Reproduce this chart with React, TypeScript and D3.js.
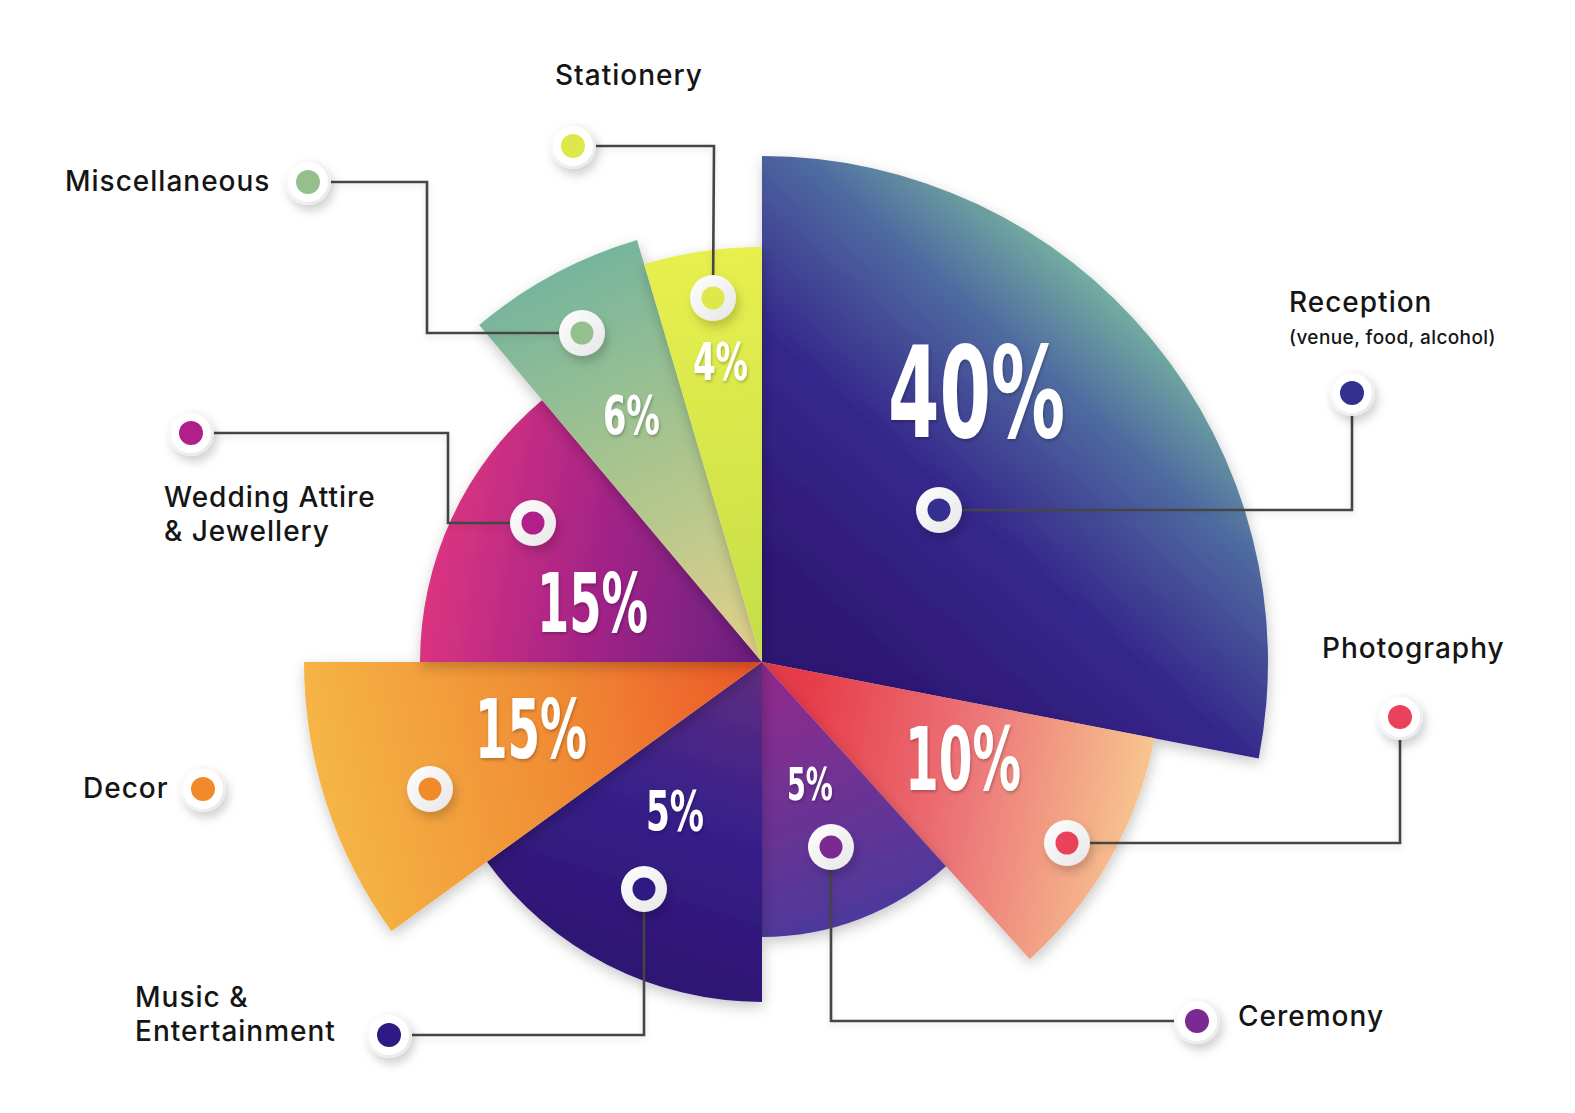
import React from "react";
import * as d3 from "d3";

// ---------- data ----------
const categories = [
  "Reception",
  "Photography",
  "Ceremony",
  "Music & Entertainment",
  "Decor",
  "Wedding Attire & Jewellery",
  "Miscellaneous",
  "Stationery",
];
const percents = [40, 10, 5, 5, 15, 15, 6, 4];
// angular sweep of each wedge as drawn (degrees) and its outer radius
const sweepDegrees = [101, 37, 42, 54, 36, 50, 23.5, 16.5];
const sliceRadius = [506, 400, 275, 340, 458, 342, 440, 415];

// ---------- layout / style ----------
const W = 1575;
const H = 1113;
const CX = 762;
const CY = 662;

type Grad = { x1: number; y1: number; x2: number; y2: number; stops: [number, string][] };
const gradients: Grad[] = [
  { x1: 820, y1: 640, x2: 1130, y2: 290, stops: [[0, "#2d1673"], [0.42, "#36288c"], [0.75, "#4f6ba0"], [1, "#79b8a0"]] },
  { x1: 800, y1: 700, x2: 1150, y2: 760, stops: [[0, "#e63a48"], [0.5, "#ec7578"], [1, "#f7c58f"]] },
  { x1: 780, y1: 680, x2: 870, y2: 925, stops: [[0, "#8e2b8c"], [1, "#4a3a9c"]] },
  { x1: 750, y1: 670, x2: 640, y2: 995, stops: [[0, "#5f2d82"], [0.45, "#37208a"], [1, "#2d1270"]] },
  { x1: 760, y1: 662, x2: 310, y2: 760, stops: [[0, "#ed5628"], [0.45, "#f08a33"], [1, "#f5b646"]] },
  { x1: 420, y1: 560, x2: 760, y2: 620, stops: [[0, "#df3580"], [0.55, "#9f2287"], [1, "#6b1f80"]] },
  { x1: 560, y1: 250, x2: 745, y2: 640, stops: [[0, "#72b39f"], [0.5, "#a6c48e"], [1, "#ddcf8a"]] },
  { x1: 720, y1: 250, x2: 752, y2: 640, stops: [[0, "#e8ef4f"], [1, "#c6df47"]] },
];
const dotColors = ["#33308f", "#e8435a", "#7a2a92", "#2e1a82", "#f08a2a", "#b0208a", "#95c08e", "#dde84a"];

// percentage label boxes: left x, baseline y, width, cap height
const pctBoxes = [
  [888, 437, 177, 92],
  [905, 790, 116, 63],
  [787, 800, 46, 33],
  [646, 830, 58, 40],
  [475, 758, 112, 60],
  [537, 632, 111, 60],
  [603, 434, 57, 39],
  [693, 380, 55, 38],
];

// callouts: polyline from inner marker to outer marker
const callouts: [number, number][][] = [
  [[939, 510], [1352, 510], [1352, 393]],
  [[1067, 843], [1400, 843], [1400, 717]],
  [[831, 847], [831, 1021], [1197, 1021]],
  [[644, 889], [644, 1035], [389, 1035]],
  [[430, 789], [203, 789]],
  [[533, 523], [448, 523], [448, 433], [191, 433]],
  [[582, 333], [427, 333], [427, 182], [308, 182]],
  [[713, 298], [714, 146], [573, 146]],
];

// text labels: lines, x, first baseline
const labelLines: string[][] = [
  ["Reception"],
  ["Photography"],
  ["Ceremony"],
  ["Music &", "Entertainment"],
  ["Decor"],
  ["Wedding Attire", "& Jewellery"],
  ["Miscellaneous"],
  ["Stationery"],
];
const labelPos = [
  [1289, 312],
  [1322, 658],
  [1238, 1026],
  [135, 1007],
  [83, 798],
  [164, 507],
  [65, 191],
  [555, 85],
];
const subLabel = "(venue, food, alcohol)";

const LABEL_FONT = "Inter, 'Open Sans', sans-serif";
const PCT_FONT = "'DejaVu Sans Condensed', 'DejaVu Sans', sans-serif";

export default function App() {
  const pie = d3
    .pie<number>()
    .sort(null)
    .value((d) => d)
    .startAngle(0)
    .endAngle(2 * Math.PI);
  const arcs = pie(sweepDegrees);
  const arcGen = d3.arc<d3.PieArcDatum<number>>().innerRadius(0);
  const line = d3.line();

  return (
    <svg
      width={W}
      height={H}
      viewBox={`0 0 ${W} ${H}`}
      style={{ position: "absolute", left: 0, top: 0, background: "#fff" }}
    >
      <defs>
        {gradients.map((g, i) => (
          <linearGradient
            key={i}
            id={`g${i}`}
            gradientUnits="userSpaceOnUse"
            gradientTransform={`translate(${-CX},${-CY})`}
            x1={g.x1}
            y1={g.y1}
            x2={g.x2}
            y2={g.y2}
          >
            {g.stops.map(([o, c], j) => (
              <stop key={j} offset={o} stopColor={c} />
            ))}
          </linearGradient>
        ))}
        <filter id="sliceShadow" x="-20%" y="-20%" width="140%" height="140%">
          <feDropShadow dx="1" dy="5" stdDeviation="7" floodColor="#000" floodOpacity="0.22" />
        </filter>
        <filter id="markerShadow" x="-80%" y="-80%" width="260%" height="260%">
          <feDropShadow dx="3" dy="6" stdDeviation="5" floodColor="#000" floodOpacity="0.18" />
        </filter>
        <filter id="lineShadow" x="-10%" y="-10%" width="120%" height="120%">
          <feDropShadow dx="0" dy="3" stdDeviation="3" floodColor="#000" floodOpacity="0.12" />
        </filter>
        <filter id="textShadow" x="-20%" y="-20%" width="140%" height="140%">
          <feDropShadow dx="1" dy="2" stdDeviation="1.5" floodColor="#000" floodOpacity="0.25" />
        </filter>
        <linearGradient id="ringGrad" x1="0" y1="0" x2="1" y2="1">
          <stop offset="0" stopColor="#ffffff" />
          <stop offset="1" stopColor="#e6e6e6" />
        </linearGradient>
      </defs>

      <g transform={`translate(${CX},${CY})`}>
        {arcs.map((a, i) => (
          <path
            key={categories[i]}
            d={arcGen.outerRadius(sliceRadius[i])(a) || ""}
            fill={`url(#g${i})`}
            filter="url(#sliceShadow)"
          />
        ))}
      </g>

      {percents.map((p, i) => {
        const [x, y, w, h] = pctBoxes[i];
        return (
          <text
            key={`p${i}`}
            x={x}
            y={y}
            textLength={w}
            lengthAdjust="spacingAndGlyphs"
            fontFamily={PCT_FONT}
            fontWeight="bold"
            fontSize={h / 0.729}
            fill="#fff"
            filter="url(#textShadow)"
          >
            {`${p}%`}
          </text>
        );
      })}

      {callouts.map((pts, i) => (
        <path
          key={`l${i}`}
          d={line(pts) || ""}
          fill="none"
          stroke="#444"
          strokeWidth={2.6}
          filter="url(#lineShadow)"
        />
      ))}

      {callouts.map((pts, i) => {
        const [ix, iy] = pts[0];
        const [ox, oy] = pts[pts.length - 1];
        return (
          <g key={`m${i}`}>
            <circle cx={ox} cy={oy} r={23} fill="url(#ringGrad)" filter="url(#markerShadow)" />
            <circle cx={ox} cy={oy} r={20} fill="#fff" />
            <circle cx={ox} cy={oy} r={12} fill={dotColors[i]} />
            <circle cx={ix} cy={iy} r={23} fill="url(#ringGrad)" filter="url(#markerShadow)" />
            <circle cx={ix} cy={iy} r={11.5} fill={dotColors[i]} />
          </g>
        );
      })}

      {labelLines.map((lines, i) => (
        <text
          key={`t${i}`}
          x={labelPos[i][0]}
          y={labelPos[i][1]}
          fontFamily={LABEL_FONT}
          fontWeight={500}
          fontSize={28}
          letterSpacing={1}
          fill="#151515"
        >
          {lines.map((ln, j) => (
            <tspan key={j} x={labelPos[i][0]} dy={j === 0 ? 0 : 34}>
              {ln}
            </tspan>
          ))}
        </text>
      ))}
      <text
        x={labelPos[0][0]}
        y={labelPos[0][1] + 32}
        fontFamily={LABEL_FONT}
        fontWeight={500}
        fontSize={19}
        letterSpacing={0.4}
        fill="#151515"
      >
        {subLabel}
      </text>
    </svg>
  );
}
